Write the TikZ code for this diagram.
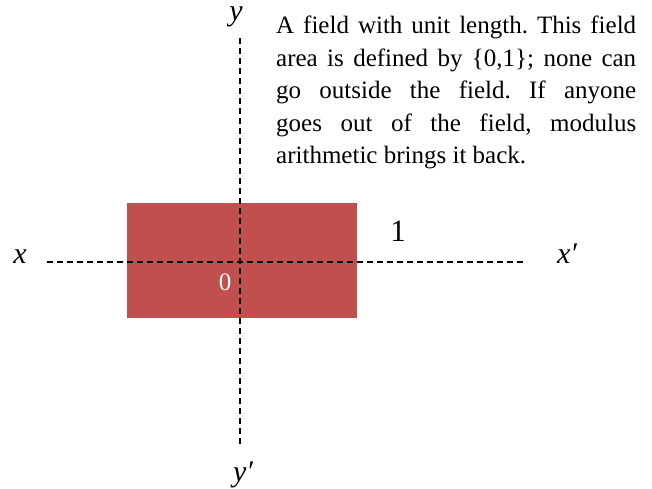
\documentclass[tikz,border=0pt]{standalone}
\usepackage{fontspec}
\setmainfont{Liberation Serif}
\definecolor{fieldred}{HTML}{C0504D}
\tikzset{
  axis/.style={line width=1.6pt, dash pattern=on 6pt off 4pt},
  lbl/.style={inner sep=0pt, anchor=base, font=\fontsize{30}{30}\selectfont\itshape},
}
\begin{document}
\begin{tikzpicture}[x=1pt,y=-1pt]
\useasboundingbox (0,0) rectangle (652,488);
\fill[fieldred] (127,203) rectangle (357,318);
\coordinate (xl) at (47,262);
\coordinate (xr) at (527,262);
\coordinate (yt) at (240,38);
\coordinate (yb) at (240,446);
\draw[axis] (xl) -- (xr);
\draw[axis] (yt) -- (yb);
\node[lbl] (lx) at (20,263) {x};
\node[lbl] (lxp) at (567,263) {x′};
\node[lbl] (ly) at (236,20) {y};
\node[lbl] (lyp) at (243,481) {y′};
\node[inner sep=0pt, font=\fontsize{31}{31}\selectfont] (one) at (398,231) {1};
\node[inner sep=0pt, text=white, font=\fontsize{25}{25}\selectfont] (zero) at (225,282) {0};
\node[inner sep=0pt, anchor=north west, text width=360pt, align=justify,
      font=\fontsize{25}{32.5}\selectfont] (desc) at (276,16)
  {\frenchspacing\hyphenpenalty=10000\exhyphenpenalty=10000 A field with unit length. This field\linebreak area is defined by \{0,1\}; none can\linebreak go outside the field. If anyone\linebreak goes out of the field, modulus\linebreak arithmetic brings it back.};
\end{tikzpicture}
\end{document}
